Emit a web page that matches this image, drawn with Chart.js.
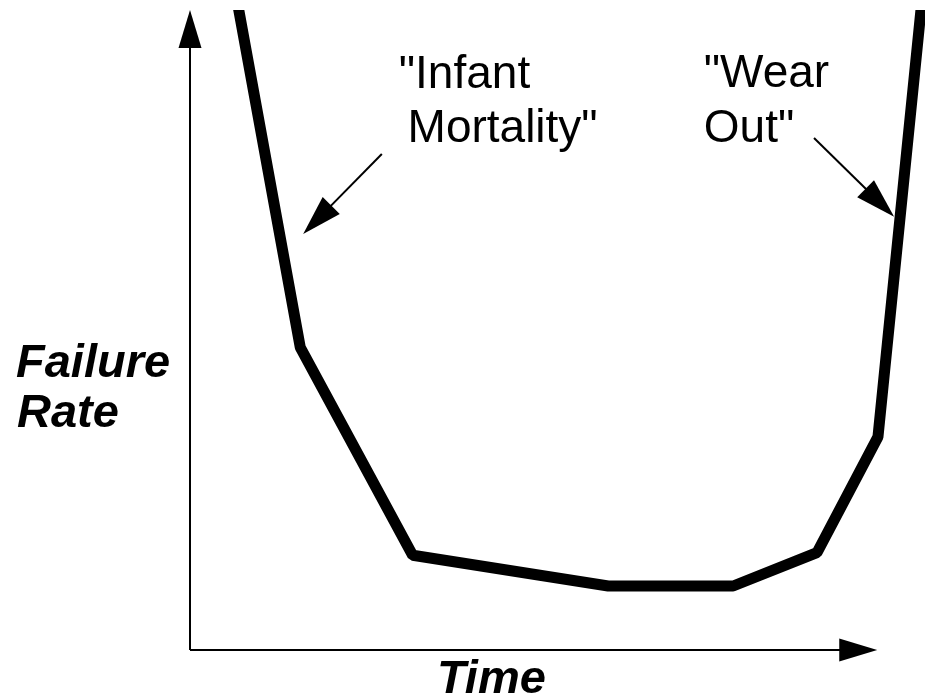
<!DOCTYPE html>
<html>
<head>
<meta charset="utf-8">
<script src="https://cdn.jsdelivr.net/npm/chart.js@4"></script>
<style>
  html, body { margin: 0; padding: 0; background: #fff; }
  #bathtub { display: block; }
</style>
</head>
<body>
<canvas id="bathtub" width="925" height="699"></canvas>
<script>
// bathtub curve: time vs failure rate (arbitrary units, 0..100)
const timeValues = [6.0, 15.0, 30.3, 56.9, 73.9, 85.3, 93.6, 99.8];
const rateValues = [104, 47.3, 14.8, 10, 10, 15.2, 33.3, 104];

const infantLabel = ['"Infant', 'Mortality"'];
const wearLabel = ['"Wear', 'Out"'];
const yTitle = ['Failure', 'Rate'];
const xTitle = 'Time';

const FONT = '"Liberation Sans", Arial, Helvetica, sans-serif';

function arrowHead(ctx, x1, y1, x2, y2, len, half) {
    const a = Math.atan2(y2 - y1, x2 - x1);
    const bx = x2 - len * Math.cos(a), by = y2 - len * Math.sin(a);
    ctx.beginPath();
    ctx.moveTo(x2, y2);
    ctx.lineTo(bx + half * Math.sin(a), by - half * Math.cos(a));
    ctx.lineTo(bx - half * Math.sin(a), by + half * Math.cos(a));
    ctx.closePath();
    ctx.fill();
}

function arrow(ctx, x1, y1, x2, y2, len, half) {
    const a = Math.atan2(y2 - y1, x2 - x1);
    ctx.beginPath();
    ctx.moveTo(x1, y1);
    ctx.lineTo(x2 - (len - 2) * Math.cos(a), y2 - (len - 2) * Math.sin(a));
    ctx.stroke();
    arrowHead(ctx, x1, y1, x2, y2, len, half);
}

const decorations = {
    id: 'decorations',
    afterDatasetsDraw(chart) {
        const ctx = chart.ctx;
        const xs = chart.scales.x, ys = chart.scales.y;
        const px = v => xs.getPixelForValue(v);
        const py = v => ys.getPixelForValue(v);
        const area = chart.chartArea;
        ctx.save();
        ctx.fillStyle = '#000';
        ctx.strokeStyle = '#000';
        ctx.lineWidth = 2;

        // axes with arrow heads
        arrow(ctx, area.left, area.bottom, area.left, area.top, 38, 11.5);
        arrow(ctx, area.left, area.bottom, px(93.5), area.bottom, 38, 11.5);

        // callout arrows
        arrow(ctx, px(26.1), py(77.5), px(15.4), py(65.0), 40, 12);
        arrow(ctx, px(84.9), py(80.0), px(95.8), py(67.7), 40, 12);

        // callout text
        ctx.font = '46px ' + FONT;
        ctx.textBaseline = 'alphabetic';
        ctx.textAlign = 'left';
        ctx.fillText(infantLabel[0], px(28.4), py(87.8));
        ctx.fillText(infantLabel[1], px(29.6), py(79.4));
        ctx.fillText(wearLabel[0], px(69.9), py(88.0));
        ctx.fillText(wearLabel[1], px(69.9), py(79.4));

        // axis titles
        ctx.font = 'italic bold 47px ' + FONT;
        ctx.fillText(yTitle[0], area.left - 174, 377);
        ctx.fillText(yTitle[1], area.left - 173, 427);
        ctx.fillText(xTitle, 437, 693);
        ctx.restore();
    }
};

const bathtubChart = new Chart(
    document.getElementById('bathtub'),
    {
        type: 'line',
        data: {
            datasets: [
                {
                    label: 'Failure Rate',
                    data: timeValues.map((t, i) => ({ x: t, y: rateValues[i] })),
                    borderColor: '#000',
                    borderWidth: 11,
                    borderJoinStyle: 'bevel',
                    borderCapStyle: 'butt',
                    pointRadius: 0,
                    tension: 0,
                    fill: false,
                    clip: 0
                }
            ]
        },
        options: {
            responsive: false,
            animation: false,
            layout: { padding: { left: 190, right: 0, top: 10, bottom: 49 } },
            scales: {
                x: { type: 'linear', min: 0, max: 100, display: false },
                y: { type: 'linear', min: 0, max: 100, display: false }
            },
            plugins: {
                legend: { display: false },
                tooltip: { enabled: false }
            }
        },
        plugins: [decorations]
    }
);
</script>
</body>
</html>
